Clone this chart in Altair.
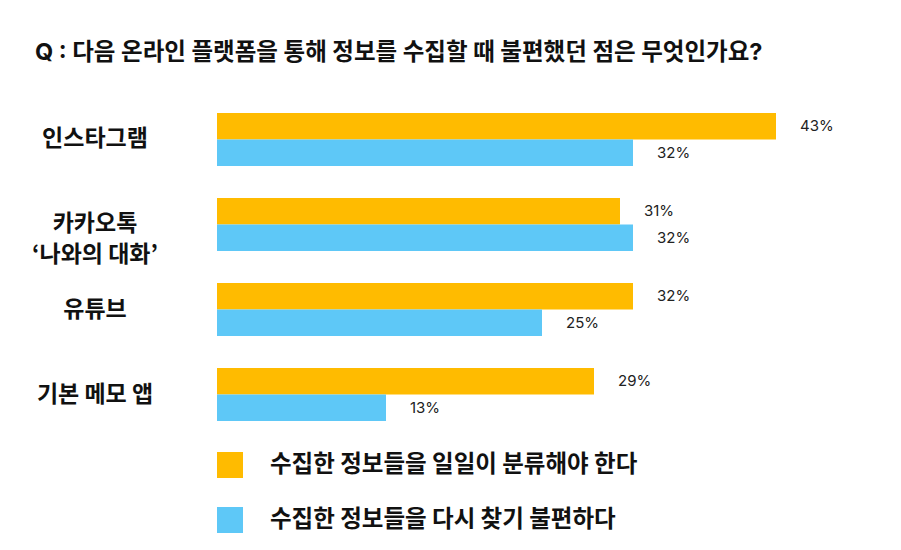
import altair as alt
import pandas as pd

platforms = ["인스타그램", "카카오톡\n‘나와의 대화’", "유튜브", "기본 메모 앱"]
reasons = ["수집한 정보들을 일일이 분류해야 한다", "수집한 정보들을 다시 찾기 불편하다"]
sort_pct = [43, 31, 32, 29]
find_pct = [32, 32, 25, 13]
colors = ["#FFBB00", "#5EC8F7"]

FONT = "Inter, Noto Sans CJK KR, sans-serif"
KFONT = "Noto Sans CJK KR"

rows = []
for p, a, b in zip(platforms, sort_pct, find_pct):
    rows.append({"platform": p, "reason": reasons[0], "pct": a, "label": f"{a}%"})
    rows.append({"platform": p, "reason": reasons[1], "pct": b, "label": f"{b}%"})
df = pd.DataFrame(rows)
cats = pd.DataFrame({"platform": platforms})

y_enc = alt.Y(
    "platform:N",
    sort=platforms,
    axis=None,
    scale=alt.Scale(paddingInner=0.376, paddingOuter=0.376),
)
yoff_enc = alt.YOffset("reason:N", sort=reasons, scale=alt.Scale(paddingInner=0))

bars = (
    alt.Chart(df)
    .mark_bar()
    .encode(
        x=alt.X("pct:Q", axis=None, scale=alt.Scale(domain=[0, 50])),
        y=y_enc,
        yOffset=yoff_enc,
        color=alt.Color(
            "reason:N",
            sort=reasons,
            scale=alt.Scale(domain=reasons, range=colors),
            title=None,
            legend=alt.Legend(
                orient="none",
                legendX=0,
                legendY=371,
                direction="vertical",
                symbolType="square",
                symbolSize=676,
                symbolStrokeWidth=0,
                symbolOpacity=1,
                labelFont=KFONT,
                labelFontSize=23.5,
                labelFontWeight="bold",
                labelColor="#111111",
                labelOffset=27,
                labelLimit=700,
                rowPadding=29,
                padding=0,
            ),
        ),
    )
)

values = (
    alt.Chart(df)
    .mark_text(align="left", baseline="middle", dx=24, fontSize=15, font=FONT, color="#222222")
    .encode(
        x=alt.X("pct:Q"),
        y=y_enc,
        yOffset=yoff_enc,
        text="label:N",
    )
)

names = (
    alt.Chart(cats)
    .mark_text(
        align="center",
        baseline="middle",
        fontSize=23,
        fontWeight="bold",
        font=KFONT,
        color="#111111",
        lineBreak="\n",
        lineHeight=31,
    )
    .encode(
        x=alt.value(-122),
        y=y_enc,
        text="platform:N",
    )
)

chart = (
    alt.layer(bars, values, names)
    .properties(
        width=650,
        height=372,
        autosize=alt.AutoSizeParams(type="none"),
        padding={"left": 209, "top": 73, "right": 26, "bottom": 85},
        title=alt.TitleParams(
            "Q : 다음 온라인 플랫폼을 통해 정보를 수집할 때 불편했던 점은 무엇인가요?",
            anchor="start",
            frame="group",
            dx=-182,
            offset=17,
            font=FONT,
            fontSize=23.5,
            fontWeight="bold",
            color="#111111",
        ),
    )
    .configure_view(stroke=None)
)

chart.save("out.html", embed_options={"renderer": "svg", "actions": False})
